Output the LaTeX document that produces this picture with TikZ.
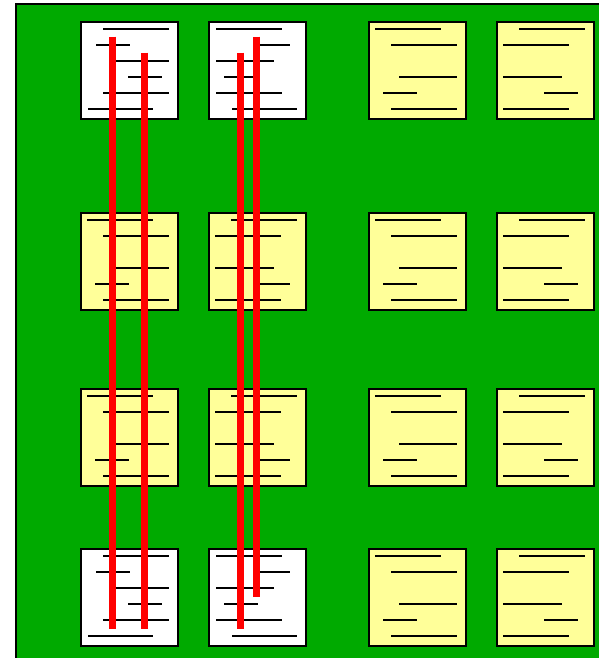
\documentclass[tikz,border=0pt]{standalone}
\usepackage{tikz}
\usetikzlibrary{positioning}

\definecolor{grass}{RGB}{0,170,0}
\definecolor{note}{RGB}{255,255,153}
\definecolor{thread}{RGB}{255,0,0}

% text rows on the cards: x offset / y offset / length
\newcommand\whiteleft{23/8/66, 16/24/34, 36/40/53, 48/56/34, 23/72/66, 8/88/65}
\newcommand\whiteright{8/8/66, 47/24/35, 8/40/58, 16/56/34, 8/72/66, 24/88/65}
\newcommand\noteleft{7/8/66, 23/24/66, 31/56/58, 15/72/34, 23/88/66}
\newcommand\noteright{23/8/66, 7/24/66, 7/56/59, 48/72/34, 7/88/66}

\begin{document}
\begin{tikzpicture}[x=1pt, y=-1pt,
    card/.style={draw, line width=1.6pt, fill=note, minimum size=97pt,
                 inner sep=0pt, anchor=north west},
    rule/.style={line width=1.3pt},
    bar/.style={draw=thread, line width=7pt}]
  \useasboundingbox (0,0) rectangle (598,658);
  \draw[fill=grass, line width=1.4pt] (16,4) rectangle (620,680);

  % cards
  \foreach \x [count=\i] in {80,208,368,496}
    \foreach \y [count=\j] in {21,212,388,548} {
      \pgfmathtruncatemacro\blank{(\i<3)&&((\j==1)||(\j==4))}
      \ifnum\blank=1 \def\paper{white}\else\def\paper{note}\fi
      \node[card, fill=\paper] (c\i\j) at (\x,\y) {};
    }

  % lines of writing
  \foreach \c in {c11,c14}
    \foreach \a/\b/\l in \whiteleft
      \draw[rule] ([shift={(\a,\b)}]\c.north west) -- ++(\l,0);
  \foreach \c in {c21,c24}
    \foreach \a/\b/\l in \whiteright
      \draw[rule] ([shift={(\a,\b)}]\c.north west) -- ++(\l,0);
  \foreach \c in {c12,c13,c31,c32,c33,c34}
    \foreach \a/\b/\l in \noteleft
      \draw[rule] ([shift={(\a,\b)}]\c.north west) -- ++(\l,0);
  \foreach \c in {c22,c23,c41,c42,c43,c44}
    \foreach \a/\b/\l in \noteright
      \draw[rule] ([shift={(\a,\b)}]\c.north west) -- ++(\l,0);

  % red threads
  \coordinate (t1) at (112.7,36.7);  \coordinate (b1) at (112.7,629);
  \coordinate (t2) at (144.3,52.7);  \coordinate (b2) at (144.3,629);
  \coordinate (t3) at (240.3,52.7);  \coordinate (b3) at (240.3,629);
  \coordinate (t4) at (256.3,36.7);  \coordinate (b4) at (256.3,597);
  \foreach \k in {1,2,3,4}
    \draw[bar] (t\k) -- (b\k);
\end{tikzpicture}
\end{document}
